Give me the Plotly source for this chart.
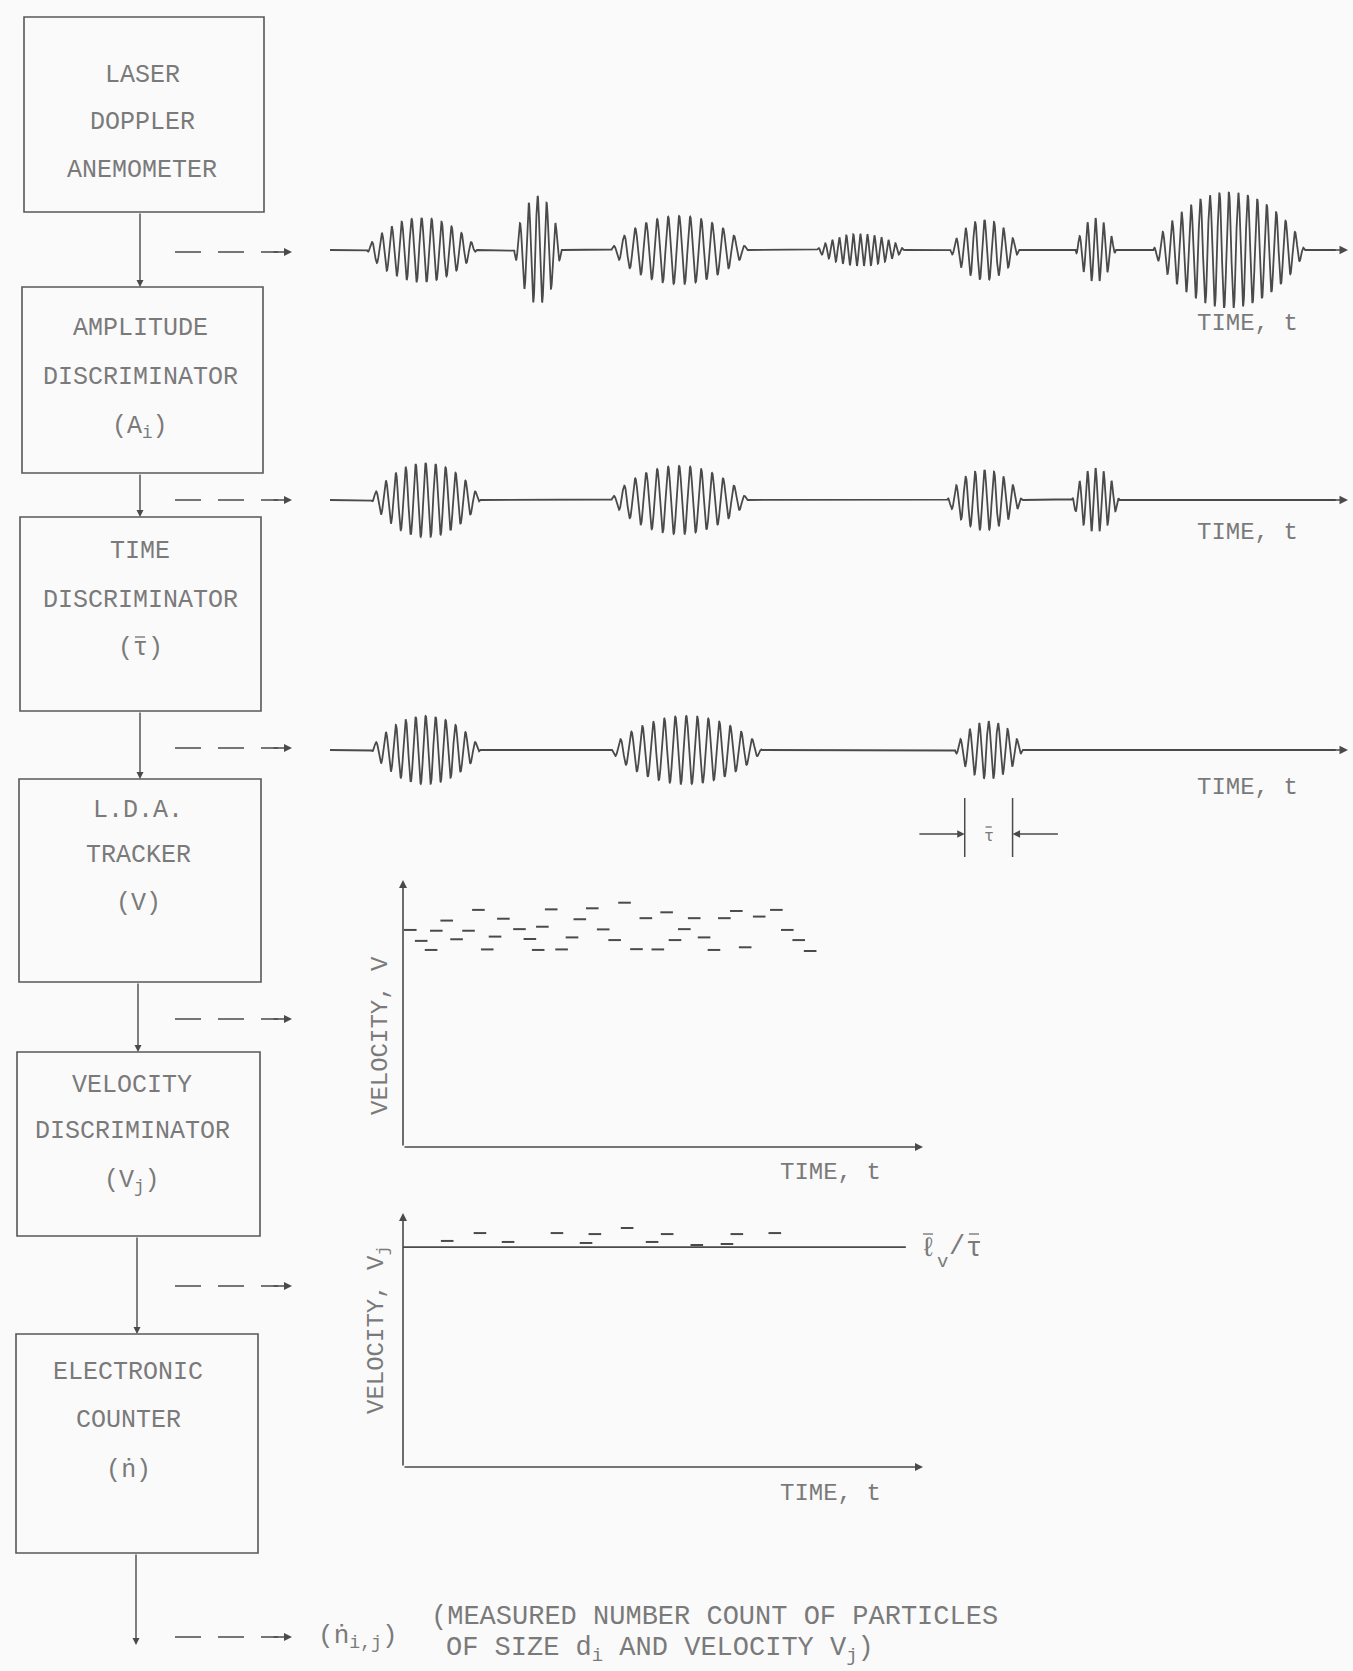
import numpy as np
import plotly.graph_objects as go

# ---------------------------------------------------------------------------
# Signal data: Doppler bursts (centre time, burst length, amplitude, period)
# ---------------------------------------------------------------------------
T_END = 10.0

# raw anemometer output
ROW1_CENTER = [0.90, 2.04, 3.43, 5.21, 6.43, 7.52, 8.83]
ROW1_WIDTH = [1.07, 0.46, 1.33, 0.85, 0.67, 0.39, 1.48]
ROW1_AMP = [3.2, 5.4, 3.4, 1.6, 3.0, 3.2, 5.8]
ROW1_PERIOD = [0.098, 0.088, 0.108, 0.069, 0.093, 0.079, 0.093]

# after the amplitude discriminator
ROW2_CENTER = [0.94, 3.43, 6.43, 7.52]
ROW2_WIDTH = [1.06, 1.33, 0.73, 0.46]
ROW2_AMP = [3.7, 3.4, 3.0, 3.2]
ROW2_PERIOD = [0.098, 0.108, 0.093, 0.079]

# after the time discriminator
ROW3_CENTER = [0.94, 3.50, 6.47]
ROW3_WIDTH = [1.06, 1.48, 0.66]
ROW3_AMP = [3.4, 3.4, 2.9]
ROW3_PERIOD = [0.098, 0.108, 0.093]

TAU_BAR = 0.47  # mean transit time window

# tracker velocity samples
VEL_T = [0.14, 0.35, 0.54, 0.64, 0.84, 1.03, 1.26, 1.45, 1.62, 1.77, 1.93,
         2.24, 2.44, 2.60, 2.68, 2.85, 3.05, 3.25, 3.40, 3.64, 3.85, 4.07,
         4.26, 4.49, 4.67, 4.90, 5.07, 5.23, 5.41, 5.60, 5.79, 5.98, 6.18,
         6.41, 6.58, 6.85, 7.18, 7.39, 7.61, 7.83]
VEL_V = [8.13, 7.72, 7.38, 8.10, 8.48, 7.78, 8.10, 8.88, 7.40, 7.88, 8.55,
         8.16, 7.79, 7.38, 8.25, 8.90, 7.40, 7.85, 8.53, 8.94, 8.15, 7.75,
         9.15, 7.41, 8.57, 7.40, 8.79, 7.75, 8.16, 8.57, 7.85, 7.38, 8.57,
         8.84, 7.48, 8.63, 8.88, 8.13, 7.75, 7.34]

# velocity discriminator output
VJ_T = [0.85, 1.48, 2.02, 2.96, 3.52, 3.69, 4.31, 4.79, 5.08, 5.65, 6.23,
        6.42, 7.15]
VJ_V = [8.90, 9.21, 8.86, 9.21, 8.82, 9.17, 9.41, 8.86, 9.17, 8.74, 8.78,
        9.17, 9.21]
VJ_LEVEL = 8.66
VJ_LEVEL_END = 9.67

BOX_LABELS = [
    ["LASER", "DOPPLER", "ANEMOMETER"],
    ["AMPLITUDE", "DISCRIMINATOR", "(A<sub>i</sub>)"],
    ["TIME", "DISCRIMINATOR", "(τ)"],
    ["L.D.A.", "TRACKER", "(V)"],
    ["VELOCITY", "DISCRIMINATOR", "(V<sub>j</sub>)"],
    ["ELECTRONIC", "COUNTER", "(ṅ)"],
]

# ---------------------------------------------------------------------------
# Page geometry (pixels)
# ---------------------------------------------------------------------------
W, H = 1353, 1671
INK = "#4a4a4a"
TXT = "#7a7a7a"
FONT = "Liberation Mono"

BOX_RECTS = [(24, 17, 264, 212), (22, 287, 263, 473), (20, 517, 261, 711),
             (19, 779, 261, 982), (17, 1052, 260, 1236), (16, 1334, 258, 1553)]
BOX_TEXT_Y = [(75, 122, 170), (328, 377, 427), (551, 600, 648),
              (810, 855, 903), (1085, 1131, 1181), (1372, 1420, 1470)]
BOX_TEXT_X = [142, 140, 140, 138, 132, 128]
LINK_X = [140, 140, 140, 138, 137, 136]
FEED_Y = [252, 500, 748, 1019, 1286, 1637]
ROW_Y = [250, 500, 750]


def ydom(top, bottom):
    return [1 - bottom / H, 1 - top / H]


def xdom(left, right):
    return [left / W, right / W]


def burst_signal(t, centers, widths, amps, periods):
    y = np.zeros_like(t)
    for c, w, a, p in zip(centers, widths, amps, periods):
        u = (t - c) / (w / 2)
        m = np.abs(u) < 1
        env = np.cos(np.pi * u[m] / 2) ** 0.7
        y[m] += a * env * np.sin(2 * np.pi * (t[m] - c) / p + np.pi / 2)
    return y


fig = go.Figure()

# canvas axes for the block diagram
layout_axes = dict(
    xaxis=dict(domain=[0, 1], range=[0, W], visible=False, fixedrange=True),
    yaxis=dict(domain=[0, 1], range=[H, 0], visible=False, fixedrange=True),
    # common time axis of the three signal traces
    xaxis2=dict(domain=xdom(330, 1348), range=[0, T_END], visible=False,
                anchor="y2"),
    # velocity plots
    xaxis5=dict(domain=xdom(403, 923), range=[0, 10], visible=False,
                anchor="y5"),
    xaxis6=dict(domain=xdom(403, 923), range=[0, 10], visible=False,
                anchor="y6"),
    yaxis5=dict(domain=ydom(880, 1147), range=[0, 10], visible=False,
                anchor="x5"),
    yaxis6=dict(domain=ydom(1213, 1467), range=[0, 10], visible=False,
                anchor="x6"),
)
for i, cy in enumerate(ROW_Y):
    layout_axes[f"yaxis{i + 2}"] = dict(domain=ydom(cy - 70, cy + 70),
                                        range=[-7, 7], visible=False,
                                        anchor="x2")

# signal traces
t = np.linspace(0, T_END - 0.12, 5000)
rows = [
    (ROW1_CENTER, ROW1_WIDTH, ROW1_AMP, ROW1_PERIOD),
    (ROW2_CENTER, ROW2_WIDTH, ROW2_AMP, ROW2_PERIOD),
    (ROW3_CENTER, ROW3_WIDTH, ROW3_AMP, ROW3_PERIOD),
]
for i, (c, w, a, p) in enumerate(rows):
    fig.add_trace(go.Scatter(
        x=t, y=burst_signal(t, c, w, a, p), mode="lines",
        line=dict(color=INK, width=1.8), xaxis="x2", yaxis=f"y{i + 2}",
        hoverinfo="skip", showlegend=False))

# tracker velocity samples
fig.add_trace(go.Scatter(
    x=VEL_T, y=VEL_V, mode="markers", xaxis="x5", yaxis="y5",
    marker=dict(symbol="line-ew", size=9, line=dict(color=INK, width=2)),
    hoverinfo="skip", showlegend=False))

# velocity discriminator: level line and accepted samples
fig.add_trace(go.Scatter(
    x=[0, VJ_LEVEL_END], y=[VJ_LEVEL, VJ_LEVEL], mode="lines",
    xaxis="x6", yaxis="y6", line=dict(color=INK, width=1.8),
    hoverinfo="skip", showlegend=False))
fig.add_trace(go.Scatter(
    x=VJ_T, y=VJ_V, mode="markers", xaxis="x6", yaxis="y6",
    marker=dict(symbol="line-ew", size=9, line=dict(color=INK, width=2)),
    hoverinfo="skip", showlegend=False))

shapes = []
annotations = []


def text(x, y, s, size=25, xanchor="center", angle=0, xref="x", yref="y"):
    annotations.append(dict(
        x=x, y=y, xref=xref, yref=yref, text=s, showarrow=False,
        xanchor=xanchor, yanchor="middle", textangle=angle,
        font=dict(family=FONT, size=size, color=TXT)))


def overbar(xc, y, half, xref="x"):
    # bar drawn over a symbol (mean value notation)
    shapes.append(dict(type="line", xref=xref, yref="y", x0=xc - half,
                       x1=xc + half, y0=y, y1=y,
                       line=dict(color=TXT, width=1.4)))


def arrow(x, y, ax, ay, xref="x", yref="y", width=1.5, size=1.0):
    annotations.append(dict(
        x=x, y=y, ax=ax, ay=ay, xref=xref, yref=yref,
        axref=xref, ayref=yref, text="", showarrow=True,
        arrowhead=2, arrowsize=size, arrowwidth=width, arrowcolor=INK))


# blocks, labels and links
for i, (x0, y0, x1, y1) in enumerate(BOX_RECTS):
    shapes.append(dict(type="rect", xref="x", yref="y", x0=x0, y0=y0,
                       x1=x1, y1=y1, line=dict(color="#585858", width=1.6)))
    for s, ty in zip(BOX_LABELS[i], BOX_TEXT_Y[i]):
        text(BOX_TEXT_X[i], ty, s)
    y_next = BOX_RECTS[i + 1][1] if i + 1 < len(BOX_RECTS) else 1645
    arrow(LINK_X[i], y_next, LINK_X[i], y1, width=1.4)

# mean bar over the tau of the time discriminator label
overbar(BOX_TEXT_X[2], BOX_TEXT_Y[2][2] - 11, 5)

# dashed feed arrows to each trace
for fy in FEED_Y:
    shapes.append(dict(type="line", xref="x", yref="y", x0=175, x1=278,
                       y0=fy, y1=fy,
                       line=dict(color=INK, width=1.6, dash="26px,17px")))
    arrow(292, fy, 272, fy, width=1.6)

# signal trace arrowheads and time labels
for i, cy in enumerate(ROW_Y):
    arrow(T_END, 0, T_END - 0.2, 0, xref="x2", yref=f"y{i + 2}", width=1.7)
    text(1247, cy + [73, 32, 37][i], "TIME, t", size=24)

# mean transit time marker on the last accepted burst
tc = ROW3_CENTER[-1]
for xe in (tc - TAU_BAR / 2, tc + TAU_BAR / 2):
    shapes.append(dict(type="line", xref="x2", yref="y", x0=xe, x1=xe,
                       y0=798, y1=857, line=dict(color=INK, width=1.5)))
arrow(tc - TAU_BAR / 2, 834, tc - TAU_BAR / 2 - 0.46, 834, xref="x2",
      width=1.5)
arrow(tc + TAU_BAR / 2, 834, tc + TAU_BAR / 2 + 0.46, 834, xref="x2",
      width=1.5)
annotations.append(dict(
    x=tc, y=836, xref="x2", yref="y", text="τ", showarrow=False,
    font=dict(family=FONT, size=17, color=TXT)))
overbar(tc, 827, 0.03, xref="x2")

# velocity plot axes
for xr, yr in (("x5", "y5"), ("x6", "y6")):
    arrow(0, 10, 0, 0, xref=xr, yref=yr, width=1.6)
    arrow(10, 0, 0, 0, xref=xr, yref=yr, width=1.6)

text(380, 1036, "VELOCITY, V", angle=-90, size=24)
text(378, 1330, "VELOCITY, V<sub>j</sub>", angle=-90, size=24)
text(830, 1172, "TIME, t", size=24)
text(830, 1493, "TIME, t", size=24)

# level label: mean fringe spacing over mean transit time
text(928, 1249, "ℓ", size=27)
text(942, 1262, "v", size=19)
text(957, 1247, "/", size=27)
text(974, 1249, "τ", size=27)
overbar(928, 1234, 5)
overbar(974, 1234, 5)

# counter output
text(316, 1637, "(ṅ<sub>i,j</sub>)", size=26, xanchor="left")
text(429, 1617, "(MEASURED NUMBER COUNT OF PARTICLES", size=27,
     xanchor="left")
text(444, 1650, "OF SIZE d<sub>i</sub> AND VELOCITY V<sub>j</sub>)", size=27,
     xanchor="left")

fig.update_layout(
    width=W, height=H, autosize=False,
    margin=dict(l=0, r=0, t=0, b=0),
    paper_bgcolor="#fafafa", plot_bgcolor="rgba(0,0,0,0)",
    shapes=shapes, annotations=annotations, showlegend=False,
    **layout_axes)

fig.write_html("out.html")
